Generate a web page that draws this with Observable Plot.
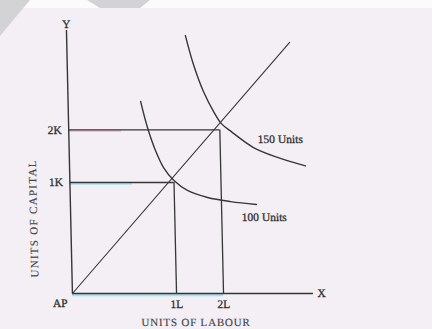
<!DOCTYPE html>
<html>
<head>
<meta charset="utf-8">
<script src="https://cdn.jsdelivr.net/npm/d3@7"></script>
<script src="https://cdn.jsdelivr.net/npm/@observablehq/plot@0.6"></script>
<style>
  html, body { margin: 0; padding: 0; }
  body { width: 432px; height: 329px; overflow: hidden; position: relative; background: #f3eff4; }
  .strip { position: absolute; left: 0; top: 0; width: 432px; height: 8px; background: #fbfbfc; }
  .shade { position: absolute; left: 0; top: 0; width: 432px; height: 40px; background: #d3d3d6; }
  .shade.a { clip-path: polygon(0 0, 30px 0, 0 36px); }
  .shade.b { clip-path: polygon(87px 0, 150px 0, 140px 8px, 100px 8px); }
  #chart { position: absolute; left: 0; top: 0; transform: skewX(1.3deg); transform-origin: 216px 164.5px; }
</style>
</head>
<body>
<div class="strip"></div>
<div class="shade a"></div>
<div class="shade b"></div>
<div id="chart"></div>
<script>
// Units of labour and capital at the two production points
const labourLevels = [4.32, 6.27];
const capitalLevels = [4.60, 6.78];
const labourTicks = ["1L", "2L"];
const capitalTicks = ["1K", "2K"];

// Isoquant for 100 units of output
const iso100Labour = [3.01, 3.27, 3.58, 3.90, 4.32, 4.87, 5.70, 6.65, 7.72];
const iso100Capital = [7.96, 6.88, 5.93, 5.22, 4.68, 4.27, 3.98, 3.81, 3.69];

// Isoquant for 150 units of output
const iso150Labour = [4.93, 5.25, 5.64, 6.04, 6.35, 6.78, 7.65, 8.64, 9.79];
const iso150Capital = [10.69, 9.45, 8.34, 7.52, 7.03, 6.68, 6.05, 5.64, 5.29];

// Expansion path through the origin
const rayLabour = [0, 9.25];
const rayCapital = [0, 10.41];

const outputLabels = ["100 Units", "150 Units"];

const iso100 = iso100Labour.map((x, i) => ({x, y: iso100Capital[i]}));
const iso150 = iso150Labour.map((x, i) => ({x, y: iso150Capital[i]}));
const ray = rayLabour.map((x, i) => ({x, y: rayCapital[i]}));
const idx = d3.range(labourLevels.length);

const ink = "#363636";
const textInk = "#2e2e2e";
const fs = 11.5;
const xMax = 10, yMax = 10.9;

// shared look for every label: printed serif, slightly heavy
const label = (extra) => ({fill: textInk, stroke: textInk, strokeWidth: 0.3, fontSize: fs, ...extra});

const chart = Plot.plot({
  width: 432,
  height: 329,
  marginLeft: 69,
  marginRight: 122,
  marginTop: 30,
  marginBottom: 36,
  x: {domain: [0, xMax], axis: null},
  y: {domain: [0, yMax], axis: null},
  style: {
    background: "transparent",
    fontFamily: "'Liberation Serif', 'DejaVu Serif', serif",
    fontSize: "11.5px",
    color: "#333",
    overflow: "visible"
  },
  marks: [
    // faint coloured fringes along the guide lines
    Plot.ruleY([0], {x1: 0, x2: labourLevels[1], stroke: "#a9dfec", strokeWidth: 2.5, dy: 1.6}),
    Plot.ruleY([capitalLevels[0]], {x1: 0, x2: labourLevels[0] * 0.6, stroke: "#b9e4ee", strokeWidth: 2, dy: 1.4}),
    Plot.ruleY([capitalLevels[1]], {x1: 0, x2: labourLevels[1] * 0.35, stroke: "#efb9c8", strokeWidth: 2, dy: 0.8}),

    // axes
    Plot.ruleX([0], {y1: 0, y2: yMax, stroke: ink, strokeWidth: 1.4}),
    Plot.ruleY([0], {x1: 0, x2: xMax, stroke: ink, strokeWidth: 1.4}),

    // guides from each production point to the axes
    Plot.ruleY(idx, {y: i => capitalLevels[i], x1: 0, x2: i => labourLevels[i], stroke: ink, strokeWidth: 1.3}),
    Plot.ruleX(idx, {x: i => labourLevels[i], y1: 0, y2: i => capitalLevels[i], stroke: ink, strokeWidth: 1.3}),

    // expansion path
    Plot.line(ray, {x: "x", y: "y", stroke: ink, strokeWidth: 1.1}),

    // isoquants
    Plot.line(iso100, {x: "x", y: "y", curve: "catmull-rom", stroke: ink, strokeWidth: 1.4}),
    Plot.line(iso150, {x: "x", y: "y", curve: "catmull-rom", stroke: ink, strokeWidth: 1.4}),

    // tick labels
    Plot.text(idx, label({x: i => labourLevels[i], y: 0, text: i => labourTicks[i], dy: 11})),
    Plot.text(idx, label({x: 0, y: i => capitalLevels[i], text: i => capitalTicks[i], textAnchor: "end", dx: -7})),

    // axis letters and origin
    Plot.text(["Y"], label({x: 0, y: yMax, text: d => d, dy: -6})),
    Plot.text(["X"], label({x: xMax, y: 0, text: d => d, textAnchor: "start", dx: 4})),
    Plot.text(["AP"], label({x: 0, y: 0, text: d => d, textAnchor: "end", dx: -5, dy: 10})),

    // output labels beside the isoquants
    Plot.text([outputLabels[1]], label({x: 8.77, y: 6.38, text: d => d})),
    Plot.text([outputLabels[0]], label({x: 8.03, y: 3.14, text: d => d})),

    // axis titles
    Plot.text(["UNITS OF LABOUR"], label({x: 5.10, y: -1.19, text: d => d, fill: "#444", stroke: "#444", strokeWidth: 0.15, fontSize: 11})),
    Plot.text(["UNITS OF CAPITAL"], label({x: -1.54, y: 3.11, text: d => d, rotate: -90, fill: "#444", stroke: "#444", strokeWidth: 0.15, fontSize: 11}))
  ]
});

d3.select(chart).selectAll("text")
  .filter(function () { return this.textContent === "UNITS OF LABOUR"; })
  .attr("letter-spacing", "0.8px");
d3.select(chart).selectAll("text")
  .filter(function () { return this.textContent === "UNITS OF CAPITAL"; })
  .attr("letter-spacing", "1.3px");

document.getElementById("chart").appendChild(chart);
</script>
</body>
</html>
